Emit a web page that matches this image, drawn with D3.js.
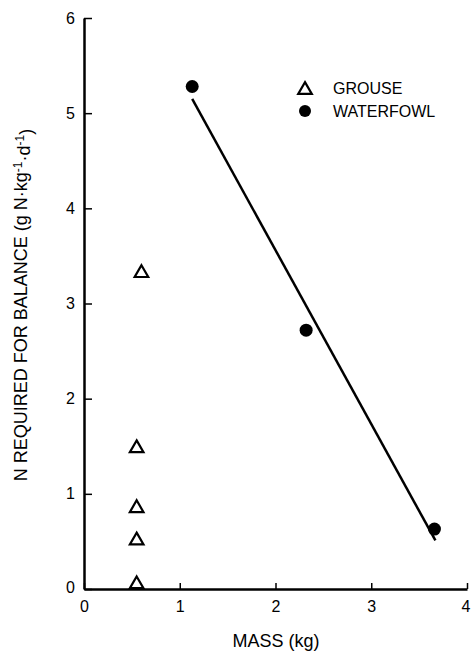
<!DOCTYPE html>
<html>
<head>
<meta charset="utf-8">
<script src="https://d3js.org/d3.v7.min.js"></script>
<style>
  body { margin: 0; background: #fff; }
  text { font-family: "Liberation Sans", Arial, sans-serif; fill: #000; }
</style>
</head>
<body>
<div id="chart_area"></div>
<script>
// grouse: mass (kg) and N required
var grouseMass = [0.60, 0.55, 0.55, 0.55, 0.55];
var grouseN = [3.33, 1.49, 0.86, 0.52, 0.06];

// waterfowl
var fowlMass = [1.13, 2.32, 3.66];
var fowlN = [5.28, 2.72, 0.63];

// fitted line end points
var fitMass = [1.13, 3.67];
var fitN = [5.15, 0.51];

var xTicks = [0, 1, 2, 3, 4];
var yTicks = [0, 1, 2, 3, 4, 5, 6];

var W = 472, H = 656;
var margin = {top: 18, right: 5, bottom: 67, left: 84};

var svg = d3.select("#chart_area").append("svg")
    .attr("width", W).attr("height", H);
var g = svg.append("g")
    .attr("transform", "translate(" + margin.left + "," + margin.top + ")");

var x = d3.scaleLinear().domain([0, 4]).range([0, 383]);
var y = d3.scaleLinear().domain([0, 6]).range([571, 0]);

// x axis, ticks point up
var xa = g.append("g")
    .attr("transform", "translate(0," + y(0) + ")")
    .call(d3.axisBottom(x).tickValues(xTicks).tickFormat(d3.format("d"))
        .tickSizeInner(-6).tickSizeOuter(0).tickPadding(12));
xa.select(".domain").attr("stroke-width", 2.5);
xa.selectAll(".tick line").attr("stroke-width", 1.5);
xa.selectAll("text").style("font-size", "16px");
xa.select(".tick:last-of-type text").attr("dx", "-0.1em");

// y axis, ticks point right
var ya = g.append("g")
    .call(d3.axisLeft(y).tickValues(yTicks).tickFormat(d3.format("d"))
        .tickSizeInner(-8).tickSizeOuter(0).tickPadding(9));
ya.select(".domain").attr("stroke-width", 2.5);
ya.selectAll(".tick line").attr("stroke-width", 1.5);
ya.selectAll("text").style("font-size", "16px");
ya.select(".tick:first-of-type text").attr("dy", "0.2em");

// regression line
g.append("line")
    .attr("x1", x(fitMass[0])).attr("y1", y(fitN[0]))
    .attr("x2", x(fitMass[1])).attr("y2", y(fitN[1]))
    .attr("stroke", "#000").attr("stroke-width", 2.5);

var tri = d3.symbol().type(d3.symbolTriangle).size(80);

g.selectAll(".grouse")
    .data(grouseMass.map(function(m, i) { return [m, grouseN[i]]; }))
    .enter().append("path")
    .attr("class", "grouse")
    .attr("d", tri)
    .attr("transform", function(d) { return "translate(" + x(d[0]) + "," + (y(d[1]) + 1) + ")"; })
    .attr("fill", "none").attr("stroke", "#000").attr("stroke-width", 2.2);

g.selectAll(".fowl")
    .data(fowlMass.map(function(m, i) { return [m, fowlN[i]]; }))
    .enter().append("circle")
    .attr("class", "fowl")
    .attr("cx", function(d) { return x(d[0]); })
    .attr("cy", function(d) { return y(d[1]); })
    .attr("r", 6.5)
    .attr("fill", "#000");

// legend
var lg = svg.append("g").attr("transform", "translate(305,89)");
lg.append("path").attr("d", tri).attr("transform", "translate(0,1)")
    .attr("fill", "none").attr("stroke", "#000").attr("stroke-width", 2.2);
lg.append("text").attr("x", 28).attr("y", 5).style("font-size", "16px").text("GROUSE");
lg.append("circle").attr("cx", 0).attr("cy", 22).attr("r", 6).attr("fill", "#000");
lg.append("text").attr("x", 28).attr("y", 28).style("font-size", "16px").text("WATERFOWL");

// axis titles
svg.append("text")
    .attr("x", 276).attr("y", 647)
    .attr("text-anchor", "middle").style("font-size", "18px")
    .text("MASS (kg)");

var yl = svg.append("text")
    .attr("transform", "translate(27,305) rotate(-90)")
    .attr("text-anchor", "middle").style("font-size", "18px");
yl.append("tspan").text("N REQUIRED FOR BALANCE (g N\u00b7kg");
yl.append("tspan").attr("dy", "-0.45em").style("font-size", "12px").text("-1");
yl.append("tspan").attr("dy", "0.45em").text("\u00b7d");
yl.append("tspan").attr("dy", "-0.45em").style("font-size", "12px").text("-1");
yl.append("tspan").attr("dy", "0.45em").text(")");
</script>
</body>
</html>
